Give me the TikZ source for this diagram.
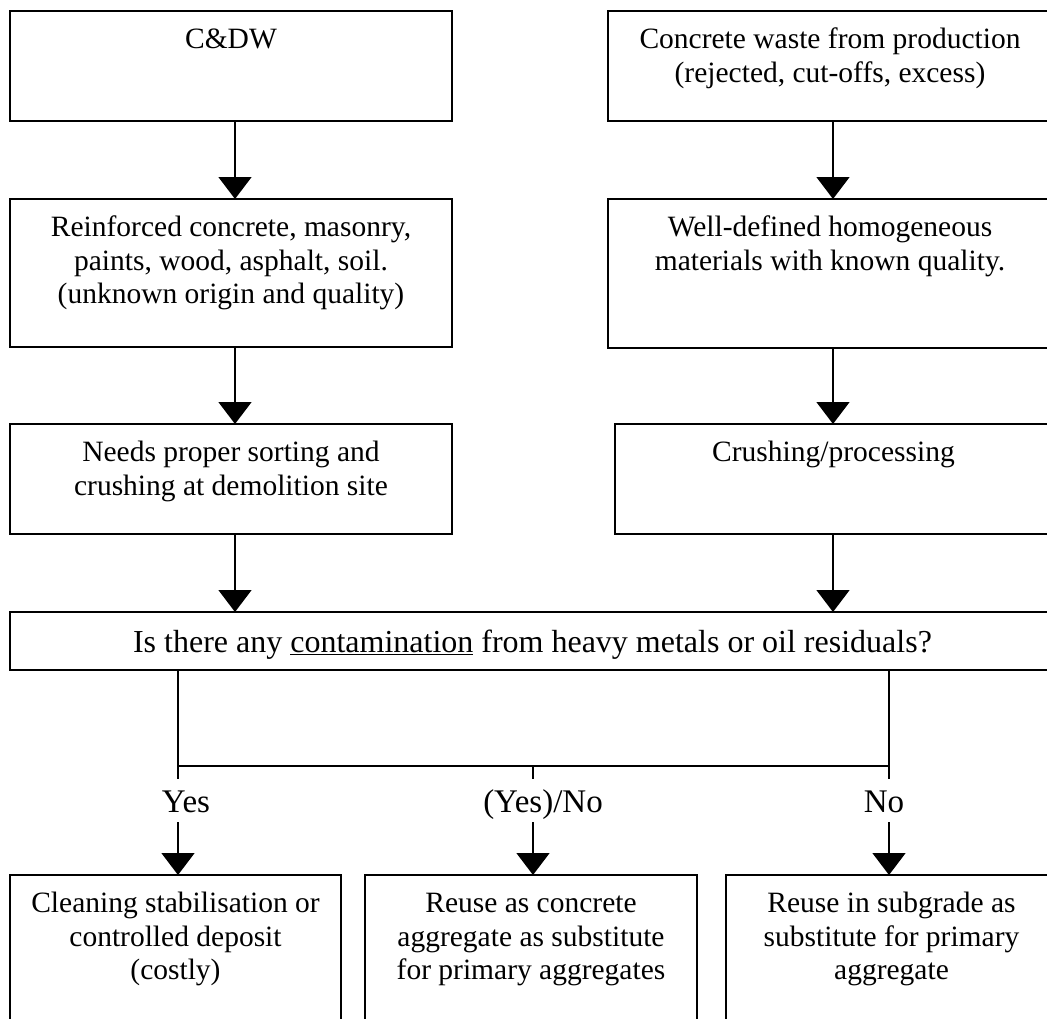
\documentclass[tikz,border=0pt]{standalone}
\usepackage{fontspec}
\setmainfont{Liberation Serif}
\usetikzlibrary{arrows.meta,calc}
\begin{document}
\begin{tikzpicture}[x=1pt,y=-1pt,
  box/.style={draw,line width=1.5pt,inner sep=0pt,outer sep=0pt,anchor=north west},
  txt/.style={inner sep=0pt,anchor=north,align=center,font=\fontsize{29.5}{33.5}\selectfont},
  qtxt/.style={inner sep=0pt,anchor=base,font=\fontsize{32}{37}\selectfont},
  lab/.style={inner sep=0pt,anchor=base,text height=33pt,text depth=10pt,font=\fontsize{33}{38}\selectfont},
  conn/.style={line width=1.5pt},
  arr/.style={line width=1.5pt,-{Triangle[width=33pt,length=22pt]}}]
\useasboundingbox (0,0) rectangle (1047,1018);
\clip (0,0) rectangle (1047,1018);
% boxes
\node[box,minimum width=442pt,minimum height=110pt] (A) at (10,11) {};
\node[box,minimum width=448pt,minimum height=110pt] (B) at (608,11) {};
\node[box,minimum width=442pt,minimum height=148pt] (C) at (10,199) {};
\node[box,minimum width=448pt,minimum height=149pt] (D) at (608,199) {};
\node[box,minimum width=442pt,minimum height=110pt] (E) at (10,424) {};
\node[box,minimum width=441pt,minimum height=110pt] (F) at (615,424) {};
\node[box,minimum width=1045pt,minimum height=58pt] (G) at (10,612) {};
\node[box,minimum width=331pt,minimum height=160pt] (H) at (10,875) {};
\node[box,minimum width=332pt,minimum height=160pt] (I) at (365,875) {};
\node[box,minimum width=331pt,minimum height=160pt] (J) at (726,875) {};
% texts
\node[txt] (At) at ([yshift=-14pt]A.north) {\strut C\&DW};
\node[txt] (Bt) at ([yshift=-14pt,xshift=-2pt]B.north) {\strut Concrete waste from production\\(rejected, cut-offs, excess)};
\node[txt] (Ct) at ([yshift=-14pt]C.north) {\strut Reinforced concrete, masonry,\\paints, wood, asphalt, soil.\\(unknown origin and quality)};
\node[txt] (Dt) at ([yshift=-14pt,xshift=-2pt]D.north) {\strut Well-defined homogeneous\\materials with known quality.};
\node[txt] (Et) at ([yshift=-14pt]E.north) {\strut Needs proper sorting and\\crushing at demolition site};
\node[txt] (Ft) at ([yshift=-14pt,xshift=-2pt]F.north) {\strut Crushing/processing};
\node[qtxt] (Gt) at (532.5,652) {Is there any \underline{contamination} from heavy metals or oil residuals?};
\node[txt] (Ht) at ([yshift=-14pt]H.north) {\strut Cleaning stabilisation or\\controlled deposit\\(costly)};
\node[txt] (It) at ([yshift=-14pt]I.north) {\strut Reuse as concrete\\aggregate as substitute\\for primary aggregates};
\node[txt] (Jt) at ([yshift=-14pt]J.north) {\strut Reuse in subgrade as\\substitute for primary\\aggregate};
% column coordinates
\coordinate (cl) at (235,0);
\coordinate (cr) at (833,0);
% arrows top part
\draw[arr] (A.south -| cl) -- (C.north -| cl);
\draw[arr] (B.south -| cr) -- (D.north -| cr);
\draw[arr] (C.south -| cl) -- (E.north -| cl);
\draw[arr] (D.south -| cr) -- (F.north -| cr);
\draw[arr] (E.south -| cl) -- (G.north -| cl);
\draw[arr] (F.south -| cr) -- (G.north -| cr);
% branches
\coordinate (jl) at (178,766);
\coordinate (jm) at (533,766);
\coordinate (jr) at (889,766);
\draw[conn] (G.south -| jl) -- (jl) -- (jr) -- (G.south -| jr);
\node[lab] (ly) at (186,812) {Yes};
\node[lab] (lm) at (543,812) {(Yes)/No};
\node[lab] (ln) at (884,812) {No};
\draw[conn] (jl) -- (jl |- ly.north);
\draw[conn] (jm) -- (jm |- lm.north);
\draw[conn] (jr) -- (jr |- ln.north);
\draw[arr] (jl |- ly.south) -- (jl |- H.north);
\draw[arr] (jm |- lm.south) -- (jm |- I.north);
\draw[arr] (jr |- ln.south) -- (jr |- J.north);
\end{tikzpicture}
\end{document}
